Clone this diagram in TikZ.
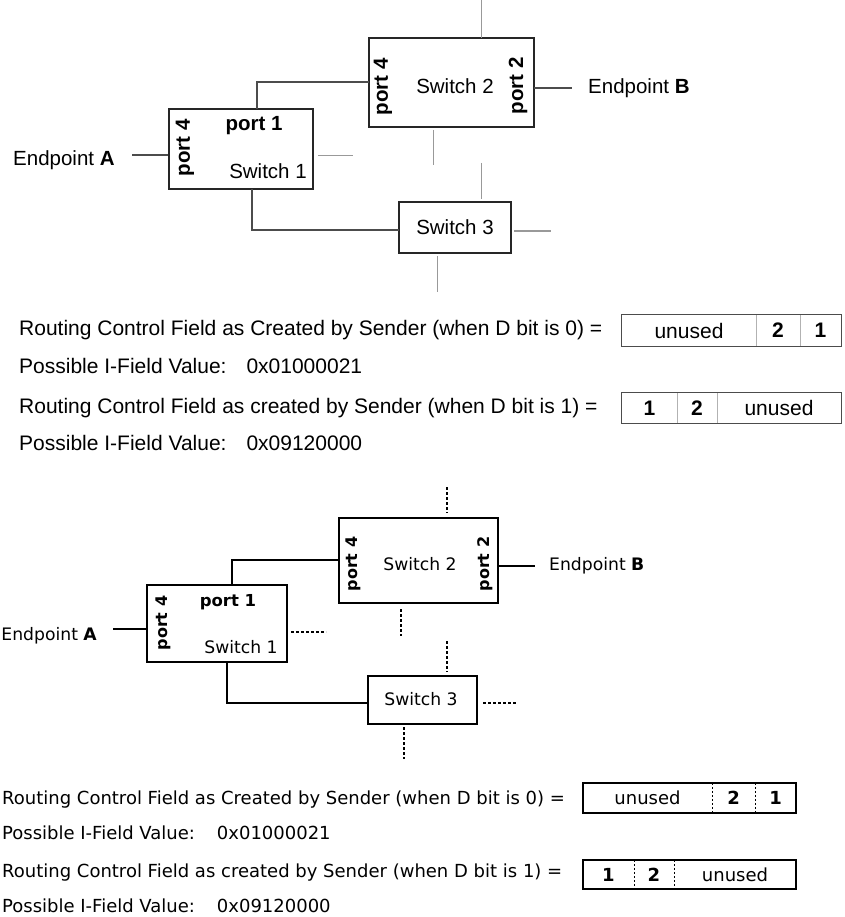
\documentclass[tikz,border=0pt]{standalone}
\usepackage{fontspec}
\setmainfont{Liberation Sans}
\newfontfamily\bmfont{DejaVu Sans}
\begin{document}
\begin{tikzpicture}[x=1pt,y=-1pt,
  tbox/.style={draw=black!85, line width=1.1pt, inner sep=0pt, fill=white},
  tline/.style={draw=black!70, line width=1.1pt},
  tstub/.style={draw=black!40, line width=1pt},
  tlab/.style={font=\fontsize{20.5}{24}\selectfont, inner sep=0pt},
  tbold/.style={font=\fontsize{20.5}{24}\selectfont\bfseries, inner sep=0pt},
  tport/.style={font=\fontsize{20.5}{24}\selectfont\bfseries, inner sep=0pt, rotate=90},
  ttext/.style={font=\fontsize{21}{25}\selectfont, inner sep=0pt, anchor=west},
  tcell/.style={font=\fontsize{21}{25}\selectfont, inner sep=0pt},
  touter/.style={draw=black!70, line width=1.1pt},
  tdiv/.style={draw=black!30, line width=1pt},
  bbox/.style={draw=black, line width=1.8pt, inner sep=0pt, fill=white},
  bline/.style={draw=black, line width=1.5pt},
  bdot/.style={draw=black, line width=1.5pt, dash pattern=on 2.5pt off 2.5pt},
  blab/.style={font=\bmfont\fontsize{17.2}{20}\selectfont, inner sep=0pt},
  bbold/.style={font=\bmfont\fontsize{16.5}{20}\selectfont\bfseries, inner sep=0pt},
  bport/.style={font=\bmfont\fontsize{16}{20}\selectfont\bfseries, inner sep=0pt, rotate=90},
  btext/.style={font=\bmfont\fontsize{18}{22}\selectfont, inner sep=0pt, anchor=west},
  bcell/.style={font=\bmfont\fontsize{18}{22}\selectfont, inner sep=0pt},
  bouter/.style={draw=black, line width=1.8pt},
  bdiv/.style={draw=black, line width=1pt, dash pattern=on 2pt off 2pt}
]
\useasboundingbox (0,0) rectangle (844,917);

% ===================== TOP DIAGRAM =====================
\node[tbox, minimum width=144pt, minimum height=80pt] (ts1) at (241,149) {};
\node[tbox, minimum width=165pt, minimum height=89pt] (ts2) at (451.5,82.5) {};
\node[tbox, minimum width=112pt, minimum height=51pt] (ts3) at (455,227.5) {};

\node[tport] (ts1p4) at (185,148) {port 4};
\node[tbold] (ts1p1) at (254,126) {port 1};
\node[tlab] (ts1n) at (268,171) {Switch 1};
\node[tport] (ts2p4) at (383,87) {port 4};
\node[tlab] (ts2n) at (455,86) {Switch 2};
\node[tport] (ts2p2) at (518,86) {port 2};
\node[tlab] (ts3n) at (455,227) {Switch 3};
\node[tlab, anchor=west] (tepA) at (13,160) {Endpoint \textbf{A}};
\node[tlab, anchor=west] (tepB) at (588,88) {Endpoint \textbf{B}};

\coordinate (taEnd) at (132,155);
\draw[tline] (taEnd) -- (taEnd -| ts1.west);
\coordinate (ts1top) at (257,109);
\coordinate (ts2in) at (369,82);
\draw[tline] (ts1top) |- (ts2in);
\coordinate (ts1bot) at (252,189);
\coordinate (ts3in) at (399,230);
\draw[tline] (ts1bot) |- (ts3in);
\coordinate (ts2out) at (534,88);
\coordinate (tbEnd) at (572,88);
\draw[tline] (ts2out) -- (tbEnd);

\coordinate (tu1a) at (318,156); \coordinate (tu1b) at (353,156);
\draw[tstub] (tu1a) -- (tu1b);
\coordinate (tu2a) at (481,0); \coordinate (tu2b) at (481,38);
\draw[tstub] (tu2a) -- (tu2b);
\coordinate (tu3a) at (433,130); \coordinate (tu3b) at (433,165);
\draw[tstub] (tu3a) -- (tu3b);
\coordinate (tu4a) at (481,163); \coordinate (tu4b) at (481,199);
\draw[tstub] (tu4a) -- (tu4b);
\coordinate (tu5a) at (514,231); \coordinate (tu5b) at (551,231);
\draw[tstub] (tu5a) -- (tu5b);
\coordinate (tu6a) at (437,256); \coordinate (tu6b) at (437,292);
\draw[tstub] (tu6a) -- (tu6b);

% top texts
\node[ttext] (tr1) at (19,330) {Routing Control Field as Created by Sender (when D bit is 0) =};
\node[ttext] (tv1) at (19,366) {Possible I-Field Value:\hspace{20pt}0x01000021};
\node[ttext] (tr2) at (19,408) {Routing Control Field as created by Sender (when D bit is 1) =};
\node[ttext] (tv2) at (19,443) {Possible I-Field Value:\hspace{20pt}0x09120000};

\node[tcell, minimum width=134pt, minimum height=31pt] (tf1a) at (689,330.5) {unused};
\node[tcell, minimum width=44pt, minimum height=31pt, font=\fontsize{21}{25}\selectfont\bfseries] (tf1b) at (778,330.5) {2};
\node[tcell, minimum width=41pt, minimum height=31pt, font=\fontsize{21}{25}\selectfont\bfseries] (tf1c) at (820.5,330.5) {1};
\draw[tdiv] (tf1a.north east) -- (tf1a.south east);
\draw[tdiv] (tf1b.north east) -- (tf1b.south east);
\draw[touter] (tf1a.north west) rectangle (tf1c.south east);

\node[tcell, minimum width=55pt, minimum height=30pt, font=\fontsize{21}{25}\selectfont\bfseries] (tf2a) at (649.5,408) {1};
\node[tcell, minimum width=40pt, minimum height=30pt, font=\fontsize{21}{25}\selectfont\bfseries] (tf2b) at (697,408) {2};
\node[tcell, minimum width=124pt, minimum height=30pt] (tf2c) at (779,408) {unused};
\draw[tdiv] (tf2a.north east) -- (tf2a.south east);
\draw[tdiv] (tf2b.north east) -- (tf2b.south east);
\draw[touter] (tf2a.north west) rectangle (tf2c.south east);

% ===================== BOTTOM DIAGRAM =====================
\node[bbox, minimum width=140pt, minimum height=77pt] (bs1) at (217,623.5) {};
\node[bbox, minimum width=159pt, minimum height=85pt] (bs2) at (418.5,560.5) {};
\node[bbox, minimum width=109pt, minimum height=48pt] (bs3) at (422.5,700) {};

\node[bport] (bs1p4) at (163,623) {port 4};
\node[bbold] (bs1p1) at (228,602) {port 1};
\node[blab] (bs1n) at (241,647) {Switch 1};
\node[bport] (bs2p4) at (353,564) {port 4};
\node[blab] (bs2n) at (420,564) {Switch 2};
\node[bport] (bs2p2) at (485,564) {port 2};
\node[blab] (bs3n) at (421,699) {Switch 3};
\node[blab, anchor=east] (bepA) at (97,636) {Endpoint \textbf{A}};
\node[blab, anchor=west] (bepB) at (549,566) {Endpoint \textbf{B}};

\coordinate (baEnd) at (113,629);
\draw[bline] (baEnd) -- (baEnd -| bs1.west);
\coordinate (bs1top) at (232,585);
\coordinate (bs2in) at (339,560);
\draw[bline] (bs1top) |- (bs2in);
\coordinate (bs1bot) at (227,662);
\coordinate (bs3in) at (368,703);
\draw[bline] (bs1bot) |- (bs3in);
\coordinate (bs2out) at (498,566);
\coordinate (bbEnd) at (535,566);
\draw[bline] (bs2out) -- (bbEnd);

\coordinate (bu1a) at (291,632); \coordinate (bu1b) at (326,632);
\draw[bdot] (bu1a) -- (bu1b);
\coordinate (bu2a) at (447,487); \coordinate (bu2b) at (447,513);
\draw[bdot] (bu2a) -- (bu2b);
\coordinate (bu3a) at (401,609); \coordinate (bu3b) at (401,636);
\draw[bdot] (bu3a) -- (bu3b);
\coordinate (bu4a) at (447,641); \coordinate (bu4b) at (447,672);
\draw[bdot] (bu4a) -- (bu4b);
\coordinate (bu5a) at (483,703); \coordinate (bu5b) at (516,703);
\draw[bdot] (bu5a) -- (bu5b);
\coordinate (bu6a) at (404,727); \coordinate (bu6b) at (404,759);
\draw[bdot] (bu6a) -- (bu6b);

% bottom texts
\node[btext] (br1) at (2,800) {Routing Control Field as Created by Sender (when D bit is 0) =};
\node[btext] (bv1) at (2,833) {Possible I-Field Value:\hspace{22pt}0x01000021};
\node[btext] (br2) at (2,873) {Routing Control Field as created by Sender (when D bit is 1) =};
\node[btext] (bv2) at (2,906) {Possible I-Field Value:\hspace{22pt}0x09120000};

\node[bcell, minimum width=129pt, minimum height=30pt] (bf1a) at (647.5,798) {unused};
\node[bcell, minimum width=43pt, minimum height=30pt, font=\bmfont\fontsize{18}{22}\selectfont\bfseries] (bf1b) at (733.5,798) {2};
\node[bcell, minimum width=41pt, minimum height=30pt, font=\bmfont\fontsize{18}{22}\selectfont\bfseries] (bf1c) at (775.5,798) {1};
\draw[bdiv] (bf1a.north east) -- (bf1a.south east);
\draw[bdiv] (bf1b.north east) -- (bf1b.south east);
\draw[bouter] (bf1a.north west) rectangle (bf1c.south east);

\node[bcell, minimum width=51pt, minimum height=29pt, font=\bmfont\fontsize{18}{22}\selectfont\bfseries] (bf2a) at (608.5,874.5) {1};
\node[bcell, minimum width=40pt, minimum height=29pt, font=\bmfont\fontsize{18}{22}\selectfont\bfseries] (bf2b) at (654,874.5) {2};
\node[bcell, minimum width=122pt, minimum height=29pt] (bf2c) at (735,874.5) {unused};
\draw[bdiv] (bf2a.north east) -- (bf2a.south east);
\draw[bdiv] (bf2b.north east) -- (bf2b.south east);
\draw[bouter] (bf2a.north west) rectangle (bf2c.south east);
\end{tikzpicture}
\end{document}
